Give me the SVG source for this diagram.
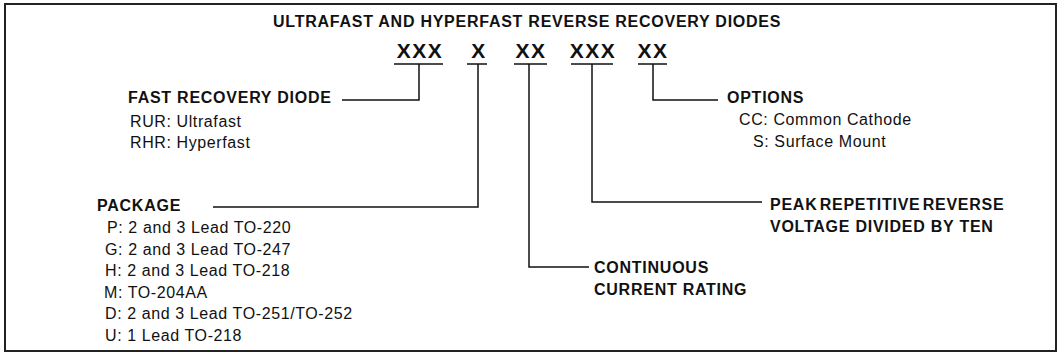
<svg xmlns="http://www.w3.org/2000/svg" width="1059" height="353" viewBox="0 0 1059 353">
<style>
.b{font-family:"Liberation Sans",Arial,sans-serif;font-weight:bold;font-size:16px;letter-spacing:0.75px;fill:#111}
.r{font-family:"Liberation Sans",Arial,sans-serif;font-size:16px;letter-spacing:0.6px;fill:#111}
.code{font-family:"Liberation Sans",Arial,sans-serif;font-weight:bold;font-size:21px;letter-spacing:1.5px;fill:#111;text-anchor:middle}
.ln{fill:none;stroke:#111;stroke-width:1.5}
</style>
<rect x="5" y="4" width="1051" height="347" fill="#fff" stroke="#222" stroke-width="2"/>
<g id="title"><text class="b" x="273" y="27">ULTRAFAST AND HYPERFAST REVERSE RECOVERY DIODES</text></g>
<g id="code">
<text class="code" x="420" y="58">XXX</text>
<text class="code" x="479" y="58">X</text>
<text class="code" x="531" y="58">XX</text>
<text class="code" x="593" y="58">XXX</text>
<text class="code" x="653" y="58">XX</text>
<path class="ln" d="M394 64H443M467 64H487M514 64H547M571 64H613M638 64H667"/>
</g>
<g id="connectors">
<path class="ln" d="M419 64V100H342"/>
<path class="ln" d="M478 64V207H213"/>
<path class="ln" d="M529 64V267H589"/>
<path class="ln" d="M592 64V202H762"/>
<path class="ln" d="M653 64V100H718"/>
</g>
<g id="fast-recovery-diode">
<text class="b" x="128" y="103">FAST RECOVERY DIODE</text>
<text class="r" x="130" y="127">RUR: Ultrafast</text>
<text class="r" x="130" y="148">RHR: Hyperfast</text>
</g>
<g id="package">
<text class="b" x="97" y="211">PACKAGE</text>
<text class="r" x="107" y="233">P: 2 and 3 Lead TO-220</text>
<text class="r" x="105" y="254.5">G: 2 and 3 Lead TO-247</text>
<text class="r" x="105" y="276">H: 2 and 3 Lead TO-218</text>
<text class="r" x="104" y="297.5">M: TO-204AA</text>
<text class="r" x="105" y="319">D: 2 and 3 Lead TO-251/TO-252</text>
<text class="r" x="105" y="340.5">U: 1 Lead TO-218</text>
</g>
<g id="options">
<text class="b" x="727" y="103">OPTIONS</text>
<text class="r" x="739" y="125">CC: Common Cathode</text>
<text class="r" x="753" y="147">S: Surface Mount</text>
</g>
<g id="peak-voltage">
<text class="b" x="770" y="210" word-spacing="-3">PEAK REPETITIVE REVERSE</text>
<text class="b" x="770" y="232">VOLTAGE DIVIDED BY TEN</text>
</g>
<g id="current-rating">
<text class="b" x="594" y="273">CONTINUOUS</text>
<text class="b" x="594" y="295">CURRENT RATING</text>
</g>
</svg>
